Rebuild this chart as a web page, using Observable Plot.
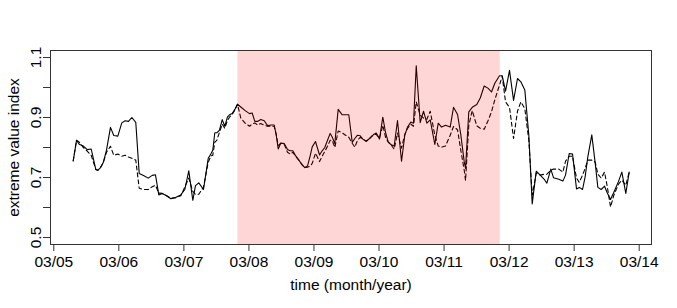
<!DOCTYPE html>
<html>
<head>
<meta charset="utf-8">
<script src="https://cdn.jsdelivr.net/npm/d3@7"></script>
<script src="https://cdn.jsdelivr.net/npm/@observablehq/plot@0.6"></script>
<style>
  html, body { margin: 0; padding: 0; background: #fff; }
  #chart svg { display: block; }
</style>
</head>
<body>
<div id="chart"></div>
<script>
// time in decimal years (March 1st = year + 2/12)
const times = [2005.465,2005.516,2005.557,2005.628,2005.680,2005.742,2005.812,2005.843,2005.885,2005.926,
2005.977,2006.038,2006.089,2006.151,2006.212,2006.264,2006.315,2006.366,2006.427,2006.480,
2006.546,2006.618,2006.680,2006.730,2006.781,2006.833,2006.895,2006.966,2007.038,2007.119,
2007.181,2007.242,2007.304,2007.345,2007.396,2007.468,2007.541,2007.581,2007.611,2007.642,
2007.673,2007.714,2007.756,2007.796,2007.837,2007.868,2007.910,2007.950,2007.991,2008.042,
2008.114,2008.176,2008.217,2008.257,2008.299,2008.349,2008.402,2008.452,2008.514,2008.555,
2008.586,2008.617,2008.657,2008.709,2008.760,2008.801,2008.841,2008.883,2008.934,2008.986,
2009.026,2009.067,2009.109,2009.140,2009.190,2009.252,2009.293,2009.333,2009.375,2009.416,
2009.447,2009.487,2009.539,2009.601,2009.652,2009.702,2009.755,2009.795,2009.836,2009.878,
2009.918,2009.970,2010.021,2010.082,2010.124,2010.174,2010.225,2010.267,2010.308,2010.348,
2010.400,2010.451,2010.513,2010.563,2010.605,2010.656,2010.697,2010.739,2010.800,2010.851,
2010.902,2010.954,2011.025,2011.077,2011.128,2011.189,2011.261,2011.312,2011.374,2011.424,
2011.477,2011.497,2011.547,2011.600,2011.670,2011.723,2011.784,2011.846,2011.896,2011.947,
2012.019,2012.061,2012.112,2012.173,2012.235,2012.296,2012.347,2012.408,2012.470,2012.522,
2012.584,2012.645,2012.707,2012.747,2012.808,2012.850,2012.931,2012.993,2013.034,2013.091,
2013.142,2013.203,2013.245,2013.296,2013.337,2013.377,2013.438,2013.491,2013.531,2013.583,
2013.634,2013.675,2013.726,2013.777,2013.849,2013.900,2013.961,2014.013];

const solidValues = [0.755,0.824,0.811,0.804,0.793,0.795,0.727,0.724,0.733,0.749,
0.791,0.867,0.840,0.838,0.882,0.889,0.887,0.900,0.884,0.713,
0.707,0.698,0.707,0.709,0.642,0.647,0.640,0.629,0.633,0.642,
0.660,0.722,0.624,0.673,0.682,0.660,0.764,0.778,0.791,0.849,
0.849,0.858,0.893,0.871,0.902,0.909,0.913,0.927,0.944,0.935,
0.922,0.913,0.915,0.887,0.887,0.893,0.889,0.873,0.875,0.875,
0.842,0.795,0.815,0.813,0.793,0.789,0.789,0.773,0.758,0.742,
0.733,0.738,0.773,0.802,0.820,0.775,0.789,0.800,0.824,0.847,
0.835,0.813,0.927,0.909,0.909,0.909,0.817,0.830,0.841,0.839,
0.828,0.821,0.830,0.843,0.848,0.828,0.901,0.850,0.819,0.810,
0.805,0.890,0.754,0.841,0.868,0.885,0.881,1.072,0.883,0.921,
0.881,0.892,0.810,0.881,0.868,0.874,0.868,0.934,0.910,0.843,
0.752,0.730,0.919,0.934,0.943,0.965,1.005,0.997,0.985,1.014,
1.039,1.039,0.988,1.057,0.957,1.030,1.019,0.992,0.841,0.612,
0.721,0.708,0.694,0.681,0.728,0.699,0.694,0.688,0.708,0.780,
0.778,0.662,0.667,0.660,0.704,0.769,0.842,0.747,0.667,0.660,
0.671,0.649,0.627,0.651,0.687,0.718,0.647,0.718];

const dashedValues = [0.755,0.824,0.818,0.798,0.788,0.774,0.727,0.724,0.733,0.749,
0.784,0.804,0.774,0.778,0.771,0.774,0.768,0.764,0.758,0.664,
0.660,0.660,0.669,0.674,0.648,0.647,0.640,0.631,0.633,0.639,
0.668,0.698,0.654,0.644,0.644,0.668,0.751,0.771,0.774,0.818,
0.824,0.851,0.878,0.864,0.891,0.901,0.911,0.924,0.944,0.898,
0.880,0.871,0.878,0.882,0.875,0.880,0.874,0.871,0.871,0.871,
0.844,0.807,0.814,0.811,0.784,0.778,0.784,0.771,0.758,0.742,
0.733,0.734,0.738,0.747,0.781,0.753,0.771,0.787,0.804,0.824,
0.824,0.800,0.855,0.849,0.841,0.834,0.814,0.801,0.824,0.834,
0.828,0.821,0.830,0.843,0.844,0.831,0.874,0.834,0.818,0.810,
0.794,0.848,0.798,0.844,0.864,0.878,0.871,0.952,0.908,0.898,
0.894,0.921,0.841,0.805,0.801,0.805,0.841,0.870,0.859,0.791,
0.724,0.690,0.874,0.923,0.872,0.864,0.861,0.891,0.919,0.959,
1.008,1.038,0.952,0.934,0.830,0.921,0.952,0.930,0.824,0.641,
0.715,0.708,0.711,0.711,0.724,0.728,0.728,0.718,0.754,0.771,
0.771,0.698,0.684,0.708,0.731,0.758,0.758,0.751,0.711,0.698,
0.718,0.671,0.602,0.641,0.678,0.691,0.674,0.718];

const shadeStart = 2007.996;
const shadeEnd = 2012.03;

const xTickYears = [2005,2006,2007,2008,2009,2010,2011,2012,2013,2014];
const xTickLabels = ["03/05","03/06","03/07","03/08","03/09","03/10","03/11","03/12","03/13","03/14"];
const yTicks = [0.5,0.6,0.7,0.8,0.9,1.0,1.1];
const yTickLabels = [0.5,0.7,0.9,1.1];

const xLabel = "time (month/year)";
const yLabel = "extreme value index";

const xDomain = [2005.116, 2014.356];
const yDomain = [0.4767, 1.1233];

const solidData = times.map((t, i) => ({t, v: solidValues[i]}));
const dashedData = times.map((t, i) => ({t, v: dashedValues[i]}));
const xTickPos = xTickYears.map(y => y + 2 / 12);

const font = "'Liberation Sans', Arial, Helvetica, sans-serif";
const fs = 15.5;

const chart = Plot.plot({
  width: 677,
  height: 308,
  marginLeft: 50,
  marginRight: 26,
  marginTop: 50,
  marginBottom: 64,
  style: {fontFamily: font, fontSize: fs + "px", background: "white", color: "black"},
  x: {domain: xDomain},
  y: {domain: yDomain},
  marks: [
    Plot.line(solidData, {x: "t", y: "v", stroke: "black", strokeWidth: 1.1}),
    Plot.line(dashedData, {x: "t", y: "v", stroke: "black", strokeWidth: 1.1, strokeDasharray: "4,3"}),
    Plot.rect([{x1: shadeStart, x2: shadeEnd}], {x1: "x1", x2: "x2", y1: yDomain[0], y2: yDomain[1], fill: "red", fillOpacity: 0.16}),
    Plot.frame({stroke: "#333", strokeWidth: 1}),
    Plot.axisX({ticks: xTickPos, tickFormat: (d, i) => xTickLabels[i], tickSize: 7, tickPadding: 4, fontSize: fs, label: null, stroke: "#333"}),
    Plot.axisY({ticks: yTicks, tickFormat: () => "", tickSize: 7, label: null, stroke: "#333"}),
    Plot.text(yTickLabels, {y: d => d, text: d => d.toFixed(1), frameAnchor: "left", textAnchor: "middle", dx: -14, rotate: -90, fontSize: fs, fill: "black"}),
    Plot.text([xLabel], {text: d => d, frameAnchor: "bottom", dy: 45, fontSize: fs, fill: "black"}),
    Plot.text([yLabel], {text: d => d, frameAnchor: "left", textAnchor: "middle", dx: -36, rotate: -90, fontSize: fs, fill: "black"})
  ]
});
document.getElementById("chart").appendChild(chart);
</script>
</body>
</html>
